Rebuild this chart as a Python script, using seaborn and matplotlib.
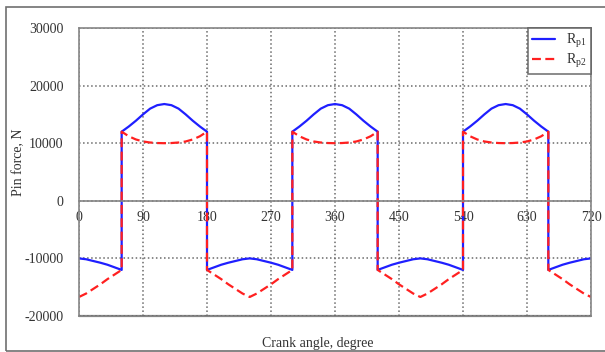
# -*- coding: utf-8 -*-

import matplotlib
matplotlib.use('Agg')
import matplotlib.pyplot as plt
from matplotlib.patches import Rectangle
import seaborn as sns
import numpy as np
import pandas as pd

## crank angle, degree (points doubled where the force jumps)
angle = [0, 10, 20, 30, 40, 50, 60,
         60, 70, 80, 90, 100, 110, 120, 130, 140, 150, 160, 170, 180,
         180, 190, 200, 210, 220, 230, 240, 250, 260, 270, 280, 290, 300,
         300, 310, 320, 330, 340, 350, 360, 370, 380, 390, 400, 410, 420,
         420, 430, 440, 450, 460, 470, 480, 490, 500, 510, 520, 530, 540,
         540, 550, 560, 570, 580, 590, 600, 610, 620, 630, 640, 650, 660,
         660, 670, 680, 690, 700, 710, 720]

## pin force Rp1, N
rp1 = [-10000, -10150, -10450, -10750, -11100, -11550, -12000,
       12000, 12900, 13900, 15000, 16000, 16600, 16800, 16600, 16000, 15000, 13900, 12900, 12000,
       -12000, -11550, -11100, -10750, -10450, -10150, -10000, -10150, -10450, -10750, -11100, -11550, -12000,
       12000, 12900, 13900, 15000, 16000, 16600, 16800, 16600, 16000, 15000, 13900, 12900, 12000,
       -12000, -11550, -11100, -10750, -10450, -10150, -10000, -10150, -10450, -10750, -11100, -11550, -12000,
       12000, 12900, 13900, 15000, 16000, 16600, 16800, 16600, 16000, 15000, 13900, 12900, 12000,
       -12000, -11550, -11100, -10750, -10450, -10150, -10000]

## pin force Rp2, N
rp2 = [-16700, -16100, -15300, -14500, -13600, -12800, -12000,
       12000, 11200, 10650, 10300, 10120, 10030, 10000, 10030, 10120, 10300, 10650, 11200, 12000,
       -12000, -12800, -13600, -14500, -15300, -16100, -16700, -16100, -15300, -14500, -13600, -12800, -12000,
       12000, 11200, 10650, 10300, 10120, 10030, 10000, 10030, 10120, 10300, 10650, 11200, 12000,
       -12000, -12800, -13600, -14500, -15300, -16100, -16700, -16100, -15300, -14500, -13600, -12800, -12000,
       12000, 11200, 10650, 10300, 10120, 10030, 10000, 10030, 10120, 10300, 10650, 11200, 12000,
       -12000, -12800, -13600, -14500, -15300, -16100, -16700]

x_ticks = [0, 90, 180, 270, 360, 450, 540, 630, 720]
y_ticks = [-20000, -10000, 0, 10000, 20000, 30000]

################################################################################

sns.set_theme(style='white')
plt.rcParams['font.family'] = ['Liberation Serif', 'DejaVu Serif']
plt.rcParams['mathtext.fontset'] = 'custom'
plt.rcParams['mathtext.rm'] = 'Liberation Serif'
plt.rcParams['mathtext.it'] = 'Liberation Serif:italic'
plt.rcParams['axes.unicode_minus'] = False

df = pd.DataFrame({'angle': angle, 'rp1': rp1, 'rp2': rp2})

fig = plt.figure(figsize=(6.05, 3.52), dpi=100)
ax = fig.add_axes([79 / 605, 36 / 352, 512 / 605, 288 / 352])

sns.lineplot(x='angle', y='rp1', data=df, ax=ax, color='#1f1fff', linewidth=1.6,
             estimator=None, sort=False, label=r'R$_{\mathrm{p1}}$')
sns.lineplot(x='angle', y='rp2', data=df, ax=ax, color='#ff2020', linewidth=1.6,
             estimator=None, sort=False, dashes=False, label=r'R$_{\mathrm{p2}}$')
ax.lines[1].set_dashes((4, 2))

ax.set_xlim(0, 720)
ax.set_ylim(-20000, 30000)
ax.set_xticks(x_ticks)
ax.set_yticks(y_ticks)
ax.grid(True, linestyle=':', color='#6a6a6a', linewidth=1.1)
ax.set_axisbelow(True)

spine_color = '#858585'
for s in ax.spines.values():
	s.set_color(spine_color)
	s.set_linewidth(1.2)
ax.spines['bottom'].set_position(('data', 0))
ax.axhline(-20000, color=spine_color, linewidth=1.6, clip_on=False, zorder=0.5)

ax.tick_params(axis='x', length=0, pad=7, labelsize=10, labelcolor='#333333')
ax.tick_params(axis='y', length=0, pad=11, labelsize=10, labelcolor='#333333')

ax.set_xlabel('Crank angle, degree', fontsize=10, color='#333333')
ax.set_ylabel('Pin force, N', fontsize=10, color='#333333')
ax.xaxis.set_label_coords(0.467, -0.074)
ax.yaxis.set_label_coords(-0.105, 0.535)

leg = ax.legend(loc='upper right', borderaxespad=0, fancybox=False, fontsize=10,
                handlelength=1.6, handletextpad=0.85, borderpad=0.3, labelspacing=0.15)
leg.get_frame().set_edgecolor('#555555')
leg.get_frame().set_linewidth(1.2)
for t in leg.get_texts():
	t.set_color('#333333')

fig.add_artist(Rectangle((6 / 605, 1.5 / 352), 1.2, 344 / 352, transform=fig.transFigure,
                         fill=False, edgecolor='#707070', linewidth=1.2))

fig.savefig('out.png', dpi=100)
